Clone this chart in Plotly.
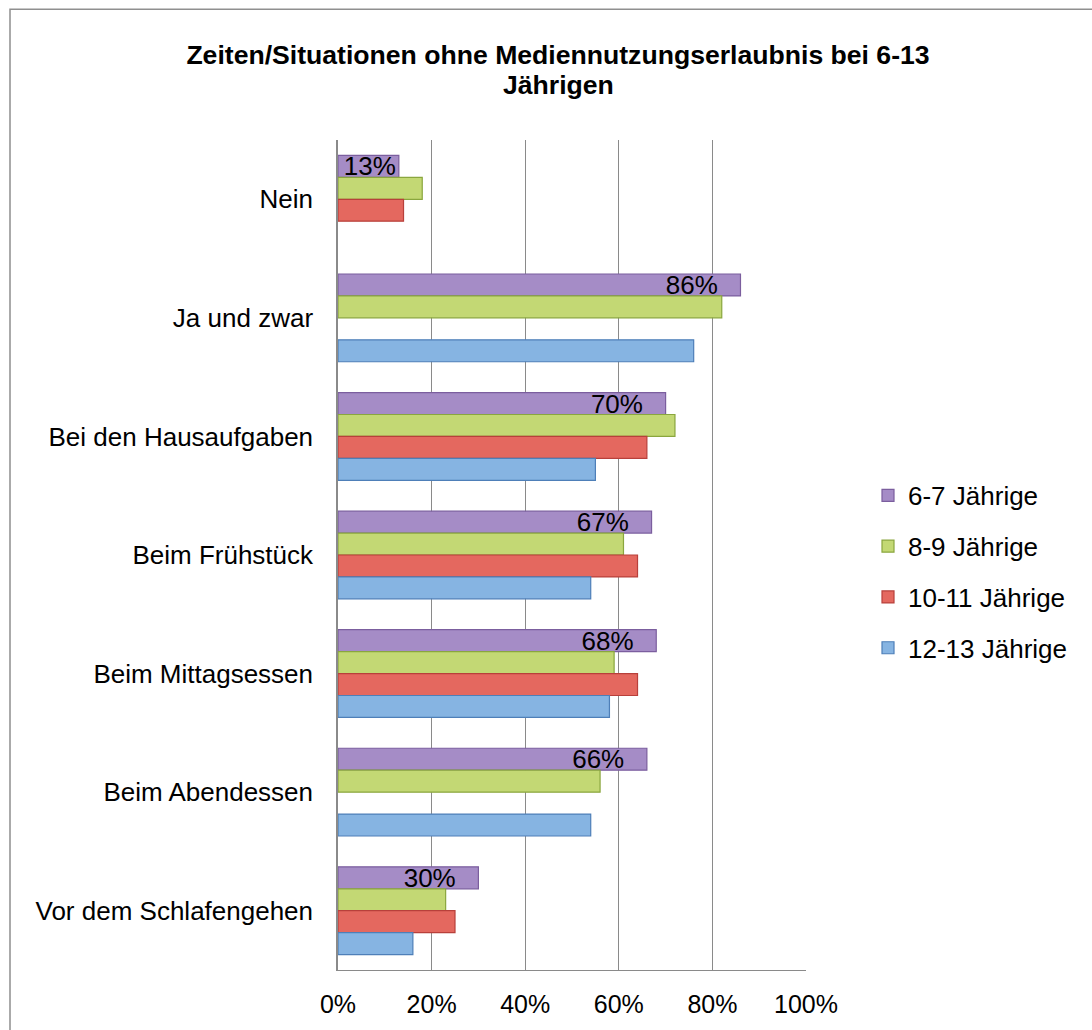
import plotly.graph_objects as go

categories = ["Nein", "Ja und zwar", "Bei den Hausaufgaben", "Beim Frühstück",
              "Beim Mittagsessen", "Beim Abendessen", "Vor dem Schlafengehen"]
series_names = ["6-7 Jährige", "8-9 Jährige", "10-11 Jährige", "12-13 Jährige"]
vals_6_7 = [13, 86, 70, 67, 68, 66, 30]
vals_8_9 = [18, 82, 72, 61, 59, 56, 23]
vals_10_11 = [14, None, 66, 64, 64, None, 25]
vals_12_13 = [None, 76, 55, 54, 58, 54, 16]
x_ticks = [0, 20, 40, 60, 80, 100]
x_tick_labels = ["0%", "20%", "40%", "60%", "80%", "100%"]
title_lines = ["Zeiten/Situationen ohne Mediennutzungserlaubnis bei 6-13", "Jährigen"]

fills = ["#A58CC6", "#C3D874", "#E4685F", "#86B4E2"]
edges = ["#7B5E9E", "#8AA63E", "#B8403B", "#4E7FB8"]

W, H = 1092, 1030
L, R, T, B = 338, 286, 140, 58
pw, ph = W - L - R, H - T - B


def label(v):
    # long bars: label sits a little inside the bar end; short bars: flush
    pad = "\u00a0\u00a0\u2009" if v >= 20 else ""
    return f"{v}%{pad}"


fig = go.Figure()
all_vals = [vals_6_7, vals_8_9, vals_10_11, vals_12_13]
for i, (name, v) in enumerate(zip(series_names, all_vals)):
    kw = {}
    if i == 0:
        kw = dict(text=[label(x) for x in v], textposition="inside",
                  insidetextanchor="end", constraintext="none", cliponaxis=False,
                  textfont=dict(color="black", size=26, family="Liberation Sans"))
    fig.add_trace(go.Bar(
        y=categories, x=v, name=name, orientation="h",
        marker=dict(color=fills[i], line=dict(color=edges[i], width=1.2)),
        legendgroup=name, hoverinfo="x+name", **kw))

fig.update_layout(
    width=W, height=H,
    margin=dict(l=L, r=R, t=T, b=B),
    paper_bgcolor="white", plot_bgcolor="white",
    barmode="group", bargap=0.26, bargroupgap=0,
    font=dict(family="Liberation Sans, Arial, sans-serif", size=26, color="black"),
    title=dict(text="<b>" + title_lines[0] + "</b>",
               x=558 / W, xanchor="center", y=1 - 55 / H, yanchor="middle",
               font=dict(size=26.6, family="Liberation Sans, Arial, sans-serif")),
    xaxis=dict(range=[0, 100], tickvals=x_ticks, ticktext=x_tick_labels,
               showgrid=True, gridcolor="#8a8a8a", gridwidth=1.3,
               zeroline=False, showline=True, linecolor="#8a8a8a", linewidth=1.3,
               mirror=False, ticks="", ticklabelstandoff=12,
               tickfont=dict(size=25)),
    yaxis=dict(autorange="reversed", showgrid=False, zeroline=False,
               showline=True, linecolor="#8a8a8a", linewidth=1.5,
               ticks="", ticklabelstandoff=18, tickfont=dict(size=26)),
    legend=dict(x=(868 - L) / pw, xanchor="left", y=(H - B - 573) / ph, yanchor="middle",
                traceorder="grouped", tracegroupgap=14, font=dict(size=26),
                itemclick=False),
    uniformtext=dict(minsize=26, mode="show"),
    showlegend=True,
)

fig.add_annotation(text="<b>" + title_lines[1] + "</b>", xref="paper", yref="paper",
                   x=(558 - L) / pw, y=(H - B - 85) / ph, xanchor="center", yanchor="middle",
                   showarrow=False,
                   font=dict(size=26.6, family="Liberation Sans, Arial, sans-serif"))

# outer chart border
fig.add_shape(type="rect", xref="paper", yref="paper",
              x0=(10 - L) / pw, x1=(W + 20 - L) / pw,
              y0=(H - B - (H + 20)) / ph, y1=(H - B - 9) / ph,
              line=dict(color="#8f8f8f", width=1.5), fillcolor="rgba(0,0,0,0)", layer="below")

fig.write_html("out.html", config={"displayModeBar": False},
               post_script="document.body.style.margin='0';document.body.style.overflow='hidden';")
